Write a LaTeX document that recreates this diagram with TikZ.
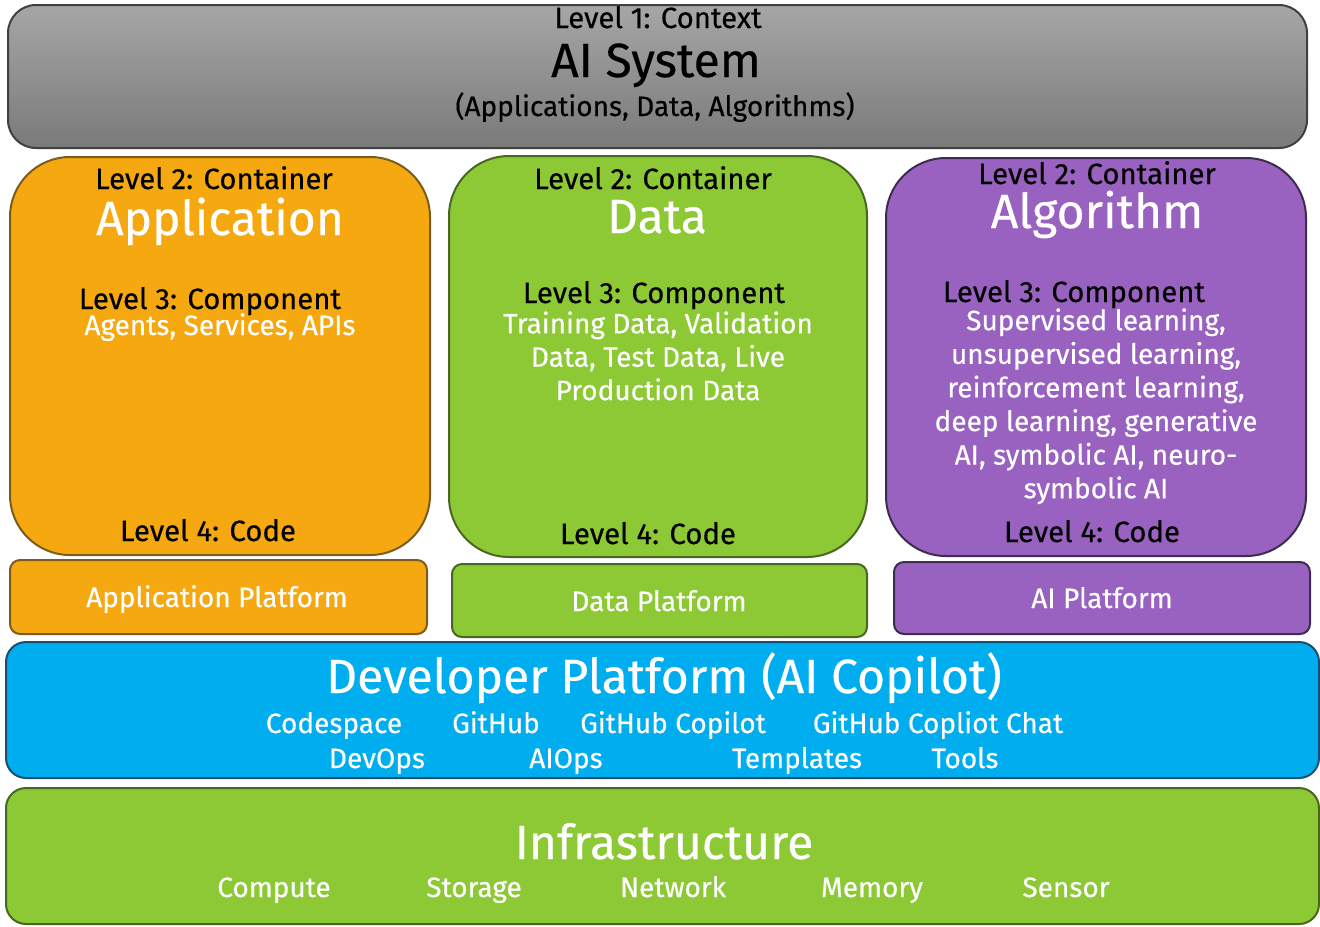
\documentclass[tikz,border=0pt]{standalone}
\usepackage{fontspec}
\setmainfont{Fira Sans}[FakeBold=0.4]
\usetikzlibrary{fit}
\definecolor{ctxtop}{HTML}{A6A6A6}
\definecolor{ctxbot}{HTML}{7A7A7A}
\definecolor{appfill}{HTML}{F5A80F}
\definecolor{appline}{HTML}{7A5C1E}
\definecolor{datafill}{HTML}{8CC935}
\definecolor{dataline}{HTML}{4A6623}
\definecolor{algfill}{HTML}{9A62C0}
\definecolor{algline}{HTML}{3E2C50}
\definecolor{devfill}{HTML}{00AEEF}
\definecolor{devline}{HTML}{1D4E6E}
\tikzset{
  layer/.style={draw, line width=1.5pt, inner sep=0pt},
  lvl/.style={font=\fontsize{22}{26}\selectfont, text=black, inner sep=0pt, anchor=base},
  big/.style={font=\fontsize{36}{40}\selectfont, text=white, inner sep=0pt, anchor=base},
  item/.style={font=\fontsize{21}{25}\selectfont, text=white, inner sep=0pt, anchor=base},
}
\begin{document}
\begin{tikzpicture}[x=0.75pt, y=-0.75pt]
    \useasboundingbox (0,0) rectangle (1320,926);
    %Level 1
    \node[layer, draw=black!75, top color=ctxtop, bottom color=ctxbot, rounded corners=21pt, fit={(8,5) (1307,148)}] (ctx) {};
    \node[lvl] (ctxlvl) at (658,28) {Level 1: Context};
    \node[big, text=black] (ctxname) at (656,77) {AI System};
    \node[lvl, font=\fontsize{21}{25}\selectfont] (ctxsub) at (655,116) {(Applications, Data, Algorithms)};
    %Level 2 containers
    \node[layer, draw=appline, fill=appfill, rounded corners=45pt, fit={(10,157) (430,555)}] (app) {};
    \node[layer, draw=dataline, fill=datafill, rounded corners=45pt, fit={(449,156) (867,557)}] (data) {};
    \node[layer, draw=algline, fill=algfill, rounded corners=45pt, fit={(886,158) (1306,556)}] (alg) {};
    \node[lvl] (applvl2) at (214,189) {Level 2: Container};
    \node[big] (appname) at (220,235) {Application};
    \node[lvl] (applvl3) at (210,309) {Level 3: Component};
    \node[item] (appitems) at (220,335) {Agents, Services, APIs};
    \node[lvl] (applvl4) at (208,541) {Level 4: Code};
    \node[lvl] (datalvl2) at (653,189) {Level 2: Container};
    \node[big] (dataname) at (657,233) {Data};
    \node[lvl] (datalvl3) at (654,303) {Level 3: Component};
    \foreach \t [count=\i from 1] in {{Training Data, Validation},{Data, Test Data, Live},{Production Data}}
      {\node[item] (dataitem\i) at (658,{299.9+33.4*\i}) {\t};}
    \node[lvl] (datalvl4) at (648,544) {Level 4: Code};
    \node[lvl] (alglvl2) at (1097,184) {Level 2: Container};
    \node[big] (algname) at (1097,228) {Algorithm};
    \node[lvl] (alglvl3) at (1074,302) {Level 3: Component};
    \foreach \t [count=\i from 1] in {{Supervised learning,},{unsupervised learning,},{reinforcement learning,},{deep learning, generative},{AI, symbolic AI, neuro-},{symbolic AI}}
      {\node[item] (algitem\i) at (1096,{296.6+33.6*\i}) {\t};}
    \node[lvl] (alglvl4) at (1092,542) {Level 4: Code};
    %Platforms
    \node[layer, draw=appline, fill=appfill, rounded corners=7.5pt, fit={(10,560) (427,634)}] (appplat) {};
    \node[layer, draw=dataline, fill=datafill, rounded corners=7.5pt, fit={(452,564) (867,637)}] (dataplat) {};
    \node[layer, draw=algline, fill=algfill, rounded corners=7.5pt, fit={(894,562) (1310,634)}] (algplat) {};
    \node[item] at (217,607) (appplattxt) {Application Platform};
    \node[item] at (659,611) (dataplattxt) {Data Platform};
    \node[item] at (1102,608) (algplattxt) {AI Platform};
    %Developer platform
    \node[layer, draw=devline, fill=devfill, rounded corners=15pt, fit={(6,642) (1319,778)}] (dev) {};
    \node[big] (devname) at (664,693) {Developer Platform (AI Copilot)};
    \foreach \t/\x [count=\i from 1] in {Codespace/334, GitHub/496, GitHub Copilot/673, GitHub Copliot Chat/938}
      {\node[item] (tool\i) at (\x,733) {\t};}
    \foreach \t/\x [count=\i from 1] in {DevOps/377, AIOps/566, Templates/797, Tools/965}
      {\node[item] (ops\i) at (\x,768) {\t};}
    %Infrastructure
    \node[layer, draw=dataline, fill=datafill, rounded corners=15pt, fit={(6,788) (1319,924)}] (infra) {};
    \node[big] (infraname) at (664,859) {Infrastructure};
    \foreach \t/\x [count=\i from 1] in {Compute/274, Storage/474, Network/673, Memory/872, Sensor/1066}
      {\node[item] (res\i) at (\x,897) {\t};}
\end{tikzpicture}
\end{document}
